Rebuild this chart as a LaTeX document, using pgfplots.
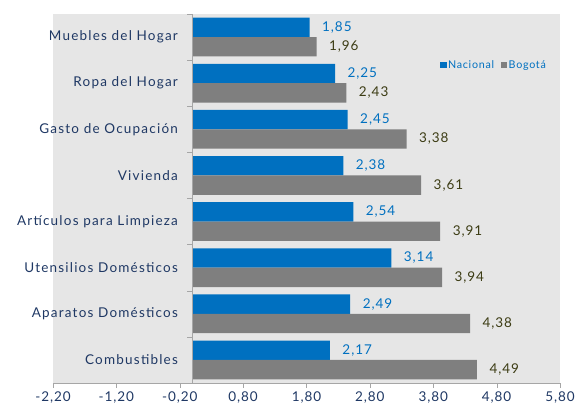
\documentclass[border=0pt]{standalone}
\usepackage{pgfplots}
\pgfplotsset{compat=1.18}
\usepackage{fontspec}
\setmainfont{Lato}[LetterSpace=7]
\newfontfamily\catfont{Lato}[LetterSpace=9]
\definecolor{nacional}{RGB}{0,112,192}
\definecolor{bogota}{RGB}{127,127,127}
\definecolor{bg}{RGB}{230,230,230}
\definecolor{navy}{RGB}{31,56,100}
\definecolor{olive}{RGB}{60,60,20}
\newcommand{\fs}{\fontsize{13.5}{15}\selectfont}
\newcommand{\cat}[2]{\node[anchor=east, text=navy, font=\catfont\fs] at ([xshift=-11pt]axis cs:0,#1) {#2};}
\begin{document}
\begin{tikzpicture}
\begin{axis}[
  scale only axis, width=507pt, height=369pt,
  xbar, bar width=0.42,
  xmin=-2.2, xmax=5.8, ymin=-0.5, ymax=7.5, y dir=reverse,
  axis x line=bottom, axis y line=none,
  x axis line style={draw=gray!70, -},
  xtick={-2.2,-1.2,-0.2,0.8,1.8,2.8,3.8,4.8,5.8},
  tick align=outside, major tick length=5pt,
  x tick style={draw=gray!70},
  xticklabel style={font=\fs, text=navy},
  ytick=\empty,
  axis background/.style={fill=bg},
  /pgf/number format/.cd, use comma, fixed, fixed zerofill, precision=2, assume math mode=true,
  /pgfplots/.cd,
  nodes near coords, point meta=x,
  legend style={at={(rel axis cs:0.763,0.862)}, anchor=west, draw=none, fill=none,
    legend columns=2, font=\fontsize{10.7}{12}\selectfont, text=nacional,
    inner sep=0pt, nodes={inner sep=1.5pt}},
  legend image code/.code={\fill[#1] (0pt,-3pt) rectangle (6.5pt,3pt);},
  clip=false,
]
\addplot[fill=nacional, draw=none, bar shift=-0.21,
  every node near coord/.append style={font=\fs, text=nacional, xshift=9pt}]
  coordinates {(1.85,0) (2.25,1) (2.45,2) (2.38,3) (2.54,4) (3.14,5) (2.49,6) (2.17,7)};
\addplot[fill=bogota, draw=none, bar shift=0.21,
  every node near coord/.append style={font=\fs, text=olive, xshift=9pt}]
  coordinates {(1.96,0) (2.43,1) (3.38,2) (3.61,3) (3.91,4) (3.94,5) (4.38,6) (4.49,7)};
\legend{Nacional\hspace*{5pt}, Bogotá}
\draw[gray!70] (axis cs:0,-0.5) -- (axis cs:0,7.5);
\pgfplotsinvokeforeach{-0.5,0.5,1.5,2.5,3.5,4.5,5.5,6.5}{\draw[gray!70] (axis cs:0,#1) -- ++(-5pt,0pt);}
\cat{0}{Muebles del Hogar}
\cat{1}{Ropa del Hogar}
\cat{2}{Gasto de Ocupación}
\cat{3}{Vivienda}
\cat{4}{Artículos para Limpieza}
\cat{5}{Utensilios Domésticos}
\cat{6}{Aparatos Domésticos}
\cat{7}{Combustibles}
\end{axis}
\path ([xshift=-53pt,yshift=-21pt]current axis.south west) rectangle ([xshift=27pt,yshift=14pt]current axis.north east);
\end{tikzpicture}
\end{document}
